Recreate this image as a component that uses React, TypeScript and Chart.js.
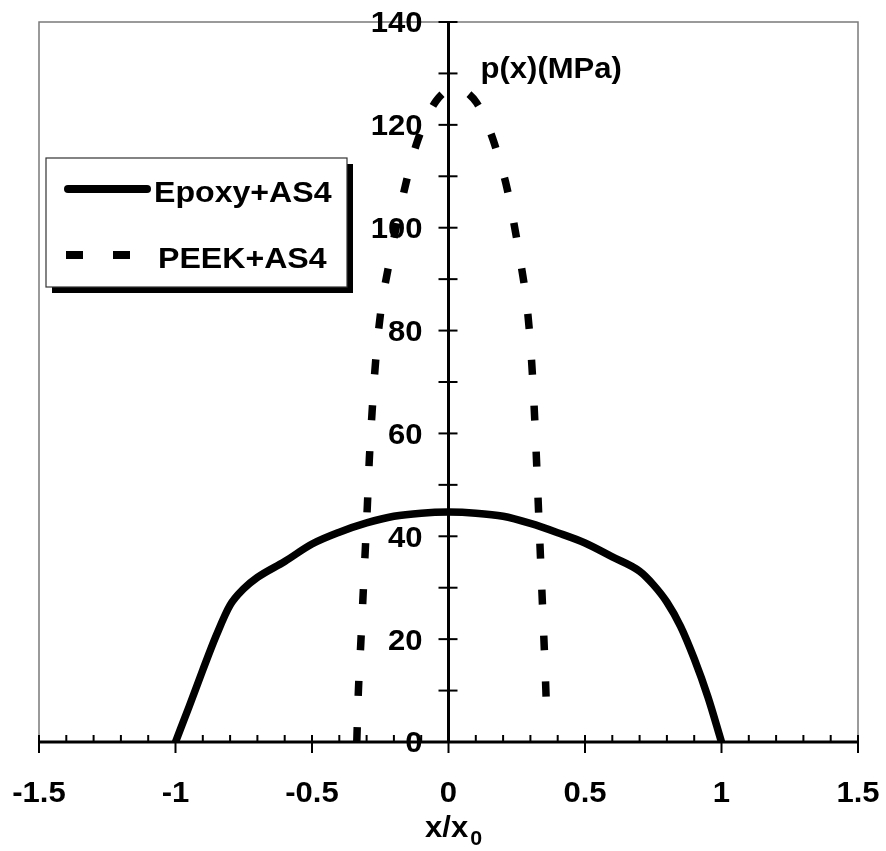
import React, { useEffect, useRef } from 'react';
import { Chart, registerables } from 'chart.js';

Chart.register(...registerables);

// Axis ticks
const X_TICKS = [-1.5, -1, -0.5, 0, 0.5, 1, 1.5];
const Y_TICKS = [0, 20, 40, 60, 80, 100, 120, 140];
const X_MINOR_STEP = 0.1;
const Y_MINOR_STEP = 10;

// Series names
const SERIES_NAMES = ['Epoxy+AS4', 'PEEK+AS4'];

// Contact pressure profile, Epoxy+AS4
const EPOXY_X = [-1, -0.95, -0.9, -0.85, -0.8, -0.75, -0.7, -0.6, -0.5, -0.4, -0.3, -0.2, -0.1, 0,
  0.1, 0.2, 0.3, 0.4, 0.5, 0.6, 0.7, 0.75, 0.8, 0.85, 0.9, 0.95, 1];
const EPOXY_Y = [0, 6.9, 14, 20.8, 26.6, 29.8, 32, 35.1, 38.5, 40.8, 42.6, 43.9, 44.5, 44.7,
  44.5, 43.9, 42.5, 40.7, 38.7, 36, 33.2, 30.6, 27.2, 22.5, 16.2, 8.8, 0];

// Contact pressure profile, PEEK+AS4
const PEEK_X = [-0.336, -0.33, -0.321, -0.313, -0.305, -0.297, -0.29, -0.28, -0.267, -0.248, -0.22,
  -0.19, -0.153, -0.119, -0.08, -0.046, 0, 0.03, 0.06, 0.103, 0.135, 0.164, 0.19, 0.213, 0.232,
  0.262, 0.287, 0.3, 0.31, 0.318, 0.325, 0.332, 0.339, 0.346, 0.353, 0.36];
const PEEK_Y = [0, 10, 19.5, 28.4, 37.2, 46.2, 55, 64.1, 74, 83.7, 92.4,
  100.5, 109.3, 116, 121.3, 124.6, 126.9, 127.3, 126.6, 124.3, 121, 117, 112.5, 108, 103,
  94, 85, 77.5, 69, 60.3, 51.3, 42.2, 33.3, 24.4, 15.4, 5];

const Y_TITLE = 'p(x)(MPa)';
const X_TITLE = 'x/x';
const X_TITLE_SUB = '0';

const FONT = '"Liberation Sans", Arial, Helvetica, sans-serif';
const STRETCH = 1.07;

function stretchedText(ctx: CanvasRenderingContext2D, text: string, x: number, y: number,
  size: number, align: CanvasTextAlign = 'left') {
  ctx.save();
  ctx.font = `bold ${size}px ${FONT}`;
  ctx.textAlign = align;
  ctx.textBaseline = 'alphabetic';
  ctx.fillStyle = '#000';
  ctx.translate(x, y);
  ctx.scale(STRETCH, 1);
  ctx.fillText(text, 0, 0);
  ctx.restore();
}

function seg(ctx: CanvasRenderingContext2D, x1: number, y1: number, x2: number, y2: number) {
  ctx.beginPath();
  ctx.moveTo(x1, y1);
  ctx.lineTo(x2, y2);
  ctx.stroke();
}

// Frame, crossing axes with ticks, tick labels and titles
const axesPlugin = {
  id: 'crossAxes',
  beforeDatasetsDraw(chart: any) {
    const { ctx, chartArea: a, scales } = chart;
    const xs = scales.x;
    const ys = scales.y;
    const x0 = xs.getPixelForValue(0);
    const y0 = ys.getPixelForValue(0);
    ctx.save();

    ctx.strokeStyle = '#7a7a7a';
    ctx.lineWidth = 1.5;
    ctx.strokeRect(a.left, a.top, a.right - a.left, a.bottom - a.top);

    // tick labels
    const tickSize = 29;
    ys.ticks.forEach((t: any) => {
      const py = ys.getPixelForValue(t.value);
      stretchedText(ctx, String(t.value), x0 - 26, py + tickSize * 0.716 / 2, tickSize, 'right');
    });
    xs.ticks.forEach((t: any) => {
      const px = xs.getPixelForValue(t.value);
      stretchedText(ctx, String(t.value), px, y0 + 60, tickSize, 'center');
    });

    ctx.strokeStyle = '#000';
    ctx.lineCap = 'butt';
    // axis lines
    ctx.lineWidth = 3;
    seg(ctx, a.left, y0, a.right, y0);
    seg(ctx, x0, a.top, x0, a.bottom);

    // x ticks: majors cross the axis, minors sit above it
    ctx.lineWidth = 2;
    const xMin = xs.min, xMax = xs.max;
    const nx = Math.round((xMax - xMin) / X_MINOR_STEP);
    for (let i = 0; i <= nx; i++) {
      const v = xMin + i * X_MINOR_STEP;
      const px = xs.getPixelForValue(v);
      const major = X_TICKS.some((t) => Math.abs(t - v) < 1e-6);
      seg(ctx, px, y0 - 7, px, major ? y0 + 11 : y0);
    }
    // y ticks cross the axis
    const ny = Math.round((ys.max - ys.min) / Y_MINOR_STEP);
    for (let i = 0; i <= ny; i++) {
      const py = ys.getPixelForValue(ys.min + i * Y_MINOR_STEP);
      seg(ctx, x0 - 10, py, x0 + 9, py);
    }

    // titles
    stretchedText(ctx, Y_TITLE, x0 + 32, 78, 29, 'left');
    ctx.save();
    ctx.font = `bold 29px ${FONT}`;
    const w = ctx.measureText(X_TITLE).width * STRETCH;
    ctx.restore();
    const tx = 425;
    stretchedText(ctx, X_TITLE, tx, 837, 29, 'left');
    stretchedText(ctx, X_TITLE_SUB, tx + w + 2, 845, 20, 'left');
    ctx.restore();
  },
  afterDatasetsDraw(chart: any) {
    const { ctx } = chart;
    const box = { x: 46, y: 158, w: 301, h: 129, shadow: 6 };
    ctx.save();
    ctx.fillStyle = '#000';
    ctx.fillRect(box.x + box.shadow, box.y + box.shadow, box.w, box.h);
    ctx.fillStyle = '#fff';
    ctx.fillRect(box.x, box.y, box.w, box.h);
    ctx.strokeStyle = '#333';
    ctx.lineWidth = 1.2;
    ctx.strokeRect(box.x, box.y, box.w, box.h);

    const rows = [189, 255];
    chart.data.datasets.forEach((ds: any, i: number) => {
      const ry = rows[i];
      ctx.strokeStyle = ds.borderColor;
      ctx.lineWidth = 8;
      const dashed = ds.borderDash && ds.borderDash.length;
      ctx.setLineDash(dashed ? [17, 30] : []);
      ctx.lineCap = dashed ? 'butt' : 'round';
      seg(ctx, dashed ? 66 : 68, ry, dashed ? 140 : 147, ry);
      ctx.setLineDash([]);
      stretchedText(ctx, ds.label, dashed ? 158 : 154, ry + 13, 30, 'left');
    });
    ctx.restore();
  },
};

export default function App() {
  const ref = useRef<HTMLCanvasElement | null>(null);

  useEffect(() => {
    if (!ref.current) return;
    const chart = new Chart(ref.current, {
      type: 'line',
      data: {
        datasets: [
          {
            label: SERIES_NAMES[0],
            data: EPOXY_X.map((x, i) => ({ x, y: EPOXY_Y[i] })),
            borderColor: '#000',
            borderWidth: 7.5,
            pointRadius: 0,
            cubicInterpolationMode: 'monotone',
            borderCapStyle: 'round',
            borderJoinStyle: 'round',
            fill: false,
          },
          {
            label: SERIES_NAMES[1],
            data: PEEK_X.map((x, i) => ({ x, y: PEEK_Y[i] })),
            borderColor: '#000',
            borderWidth: 7.5,
            borderDash: [15, 31],
            borderCapStyle: 'butt',
            pointRadius: 0,
            cubicInterpolationMode: 'monotone',
            fill: false,
          },
        ],
      },
      options: {
        animation: false,
        responsive: false,
        layout: { padding: { left: 39, right: 28, top: 22, bottom: 109 } },
        plugins: { legend: { display: false }, tooltip: { enabled: false } },
        scales: {
          x: {
            type: 'linear',
            min: X_TICKS[0],
            max: X_TICKS[X_TICKS.length - 1],
            position: { y: 0 },
            afterBuildTicks: (s: any) => { s.ticks = X_TICKS.map((value) => ({ value })); },
            ticks: { display: false },
            grid: { display: false },
            border: { display: false },
          },
          y: {
            type: 'linear',
            min: Y_TICKS[0],
            max: Y_TICKS[Y_TICKS.length - 1],
            position: { x: 0 },
            afterBuildTicks: (s: any) => { s.ticks = Y_TICKS.map((value) => ({ value })); },
            ticks: { display: false },
            grid: { display: false },
            border: { display: false },
          },
        },
      },
      plugins: [axesPlugin],
    });
    return () => chart.destroy();
  }, []);

  return (
    <div style={{ position: 'absolute', left: 0, top: 0, width: 886, height: 851, background: '#fff' }}>
      <canvas ref={ref} width={886} height={851} style={{ display: 'block' }} />
    </div>
  );
}
